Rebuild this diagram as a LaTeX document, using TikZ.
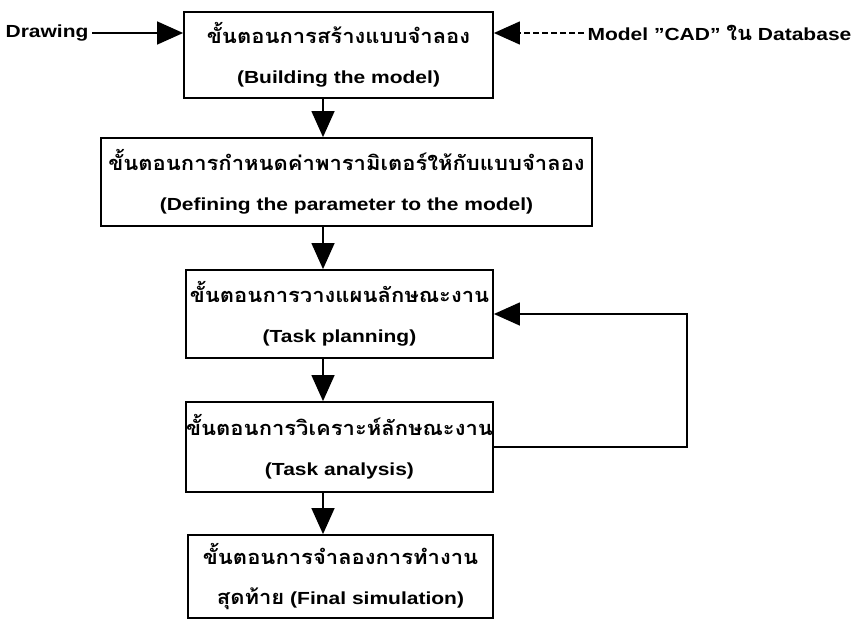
\documentclass[tikz,border=0pt]{standalone}
\usepackage{fontspec}
\setmainfont{Liberation Sans}[FakeStretch=1.2]
\newfontfamily\thaifont[Script=Thai,FakeStretch=1.1]{Loma}
\newcommand\thtxt[1]{{\thaifont\fontsize{20}{40}\selectfont #1}}
\usetikzlibrary{arrows.meta}
\tikzset{
  stage/.style 2 args={draw,line width=1.8pt,minimum width=#1,minimum height=#2,inner sep=0pt,align=center},
  flow/.style={line width=1.4pt,-{Triangle[length=26pt,width=23pt]}},
  lbl/.style={font=\bfseries\fontsize{17.5}{40}\selectfont}
}
\begin{document}
\begin{tikzpicture}[x=1pt,y=-1pt,lbl]
\useasboundingbox (0,0) rectangle (861,621);

\node[stage={309pt}{86pt}] (b1) at (338.5,55) {\thtxt{ขั้นตอนการสร้างแบบจำลอง}\\(Building the model)};
\node[stage={491pt}{88pt}] (b2) at (346.5,182) {\thtxt{ขั้นตอนการกำหนดค่าพารามิเตอร์ให้กับแบบจำลอง}\\(Defining the parameter to the model)};
\node[stage={307pt}{88pt}] (b3) at (339.5,314) {\thtxt{ขั้นตอนการวางแผนลักษณะงาน}\\(Task planning)};
\node[stage={307pt}{90pt}] (b4) at (339.5,447) {\thtxt{ขั้นตอนการวิเคราะห์ลักษณะงาน}\\(Task analysis)};
\node[stage={305pt}{83pt}] (b5) at (340.5,576.5) {\thtxt{ขั้นตอนการจำลองการทำงาน}\\\thtxt{สุดท้าย} (Final simulation)};

\node[anchor=east] (drw) at (92,33) {Drawing};
\node[anchor=west] (cad) at (584,33) {Model "CAD" \thtxt{ใน} Database};
\coordinate (ax) at (323,0);
\coordinate (fb) at (687,0);

\draw[flow] (drw.east) -- (b1.west |- drw.east);
\draw[flow,dash pattern=on 6pt off 3pt] (cad.west) -- (b1.east |- cad.west);
\draw[flow] (b1.south -| ax) -- (b2.north -| ax);
\draw[flow] (b2.south -| ax) -- (b3.north -| ax);
\draw[flow] (b3.south -| ax) -- (b4.north -| ax);
\draw[flow] (b4.south -| ax) -- (b5.north -| ax);
\draw[flow] (b4.east) -- (b4.east -| fb) -- (b3.east -| fb) -- (b3.east);
\end{tikzpicture}
\end{document}
